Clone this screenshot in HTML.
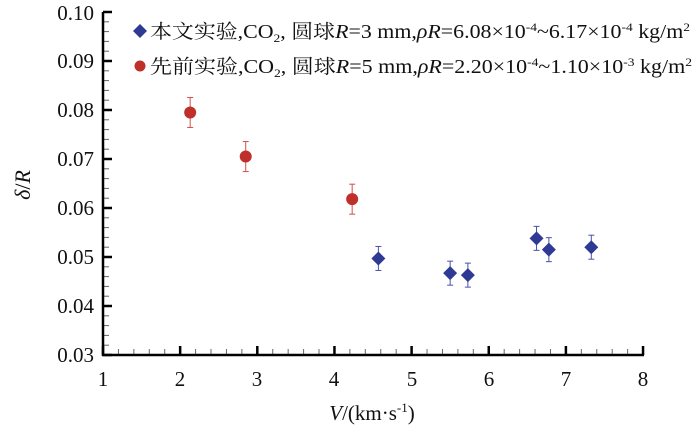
<!DOCTYPE html>
<html><head><meta charset="utf-8"><style>
body{margin:0;background:#fff}
svg text{font-family:"Liberation Serif","Noto Serif CJK SC",serif;fill:#111}
</style></head><body>
<svg width="700" height="431" viewBox="0 0 700 431" xmlns="http://www.w3.org/2000/svg">
<g id="ticks" stroke="#000"></g>
<line x1="103" y1="12" x2="103" y2="356" stroke="#000" stroke-width="2.5"/>
<line x1="102" y1="355" x2="644" y2="355" stroke="#000" stroke-width="2.5"/>
<g font-size="21" text-anchor="end">
<text x="94" y="362">0.03</text><text x="94" y="313">0.04</text><text x="94" y="264">0.05</text>
<text x="94" y="215">0.06</text><text x="94" y="166">0.07</text><text x="94" y="117">0.08</text>
<text x="94" y="68">0.09</text><text x="94" y="20">0.10</text>
</g>
<g font-size="21" text-anchor="middle">
<text x="103" y="386">1</text><text x="180" y="386">2</text><text x="257" y="386">3</text>
<text x="334" y="386">4</text><text x="412" y="386">5</text><text x="489" y="386">6</text>
<text x="566" y="386">7</text><text x="643" y="386">8</text>
</g>
<text x="372" y="420" font-size="21" text-anchor="middle"><tspan font-style="italic">V</tspan>/(km·s<tspan font-size="13" dy="-8">-1</tspan><tspan dy="8">)</tspan></text>
<text transform="translate(30,185) rotate(-90)" font-size="22" text-anchor="middle"><tspan font-style="italic">δ</tspan>/<tspan font-style="italic">R</tspan></text>
<g id="data"></g>
<polygon points="140,24 147,31 140,38 133,31" fill="#2e3a94"/>
<circle cx="140" cy="66" r="5.5" fill="#c0302a"/>
<text x="150" y="38" font-size="19.5" textLength="540" lengthAdjust="spacingAndGlyphs">本文实验,CO<tspan font-size="12" dy="4">2</tspan><tspan dy="-4">, 圆球</tspan><tspan font-style="italic">R</tspan>=3 mm,<tspan font-style="italic">ρR</tspan>=6.08×10<tspan font-size="12" dy="-7">-4</tspan><tspan dy="7">~6.17×10</tspan><tspan font-size="12" dy="-7">-4</tspan><tspan dy="7"> kg/m</tspan><tspan font-size="12" dy="-7">2</tspan></text>
<text x="150" y="73" font-size="19.5" textLength="542" lengthAdjust="spacingAndGlyphs">先前实验,CO<tspan font-size="12" dy="4">2</tspan><tspan dy="-4">, 圆球</tspan><tspan font-style="italic">R</tspan>=5 mm,<tspan font-style="italic">ρR</tspan>=2.20×10<tspan font-size="12" dy="-7">-4</tspan><tspan dy="7">~1.10×10</tspan><tspan font-size="12" dy="-7">-3</tspan><tspan dy="7"> kg/m</tspan><tspan font-size="12" dy="-7">2</tspan></text>
<script>
var ns="http://www.w3.org/2000/svg";
function el(p,n,a){var e=document.createElementNS(ns,n);for(var k in a)e.setAttribute(k,a[k]);p.appendChild(e);return e;}
var X=function(v){return 103+(v-1)*77.14},Y=function(v){return 355-(v-0.03)*4900};
var t=document.getElementById("ticks");
for(var i=0;i<=35;i++){var y=355-i*9.8;var maj=i%5==0;el(t,"line",{x1:103,x2:maj?112:109,y1:y,y2:y,"stroke-width":maj?2.5:1,stroke:maj?"#000":"#666"});}
for(var i=0;i<=35;i++){var x=103+i*15.43;var maj=i%5==0;el(t,"line",{x1:x,x2:x,y1:355,y2:maj?346:349,"stroke-width":maj?2.5:1,stroke:maj?"#000":"#666"});}
var d=document.getElementById("data");
var red=[[2.13,0.0795],[2.85,0.0705],[4.23,0.0618]];
var blue=[[4.57,0.0497],[5.5,0.0467],[5.73,0.0463],[6.62,0.0538],[6.78,0.0515],[7.33,0.052]];
red.forEach(function(p){var x=X(p[0]),y=Y(p[1]),e=15;el(d,"line",{x1:x,x2:x,y1:y-e,y2:y+e,stroke:"#d05050","stroke-width":1});el(d,"line",{x1:x-3,x2:x+3,y1:y-e,y2:y-e,stroke:"#d05050"});el(d,"line",{x1:x-3,x2:x+3,y1:y+e,y2:y+e,stroke:"#d05050"});el(d,"circle",{cx:x,cy:y,r:6,fill:"#c0302a"});});
blue.forEach(function(p){var x=X(p[0]),y=Y(p[1]),e=12;el(d,"line",{x1:x,x2:x,y1:y-e,y2:y+e,stroke:"#4a52a8","stroke-width":1});el(d,"line",{x1:x-3,x2:x+3,y1:y-e,y2:y-e,stroke:"#4a52a8"});el(d,"line",{x1:x-3,x2:x+3,y1:y+e,y2:y+e,stroke:"#4a52a8"});el(d,"polygon",{points:(x)+","+(y-7)+" "+(x+7)+","+y+" "+x+","+(y+7)+" "+(x-7)+","+y,fill:"#2e3a94"});});
</script>
</svg>
</body></html>
